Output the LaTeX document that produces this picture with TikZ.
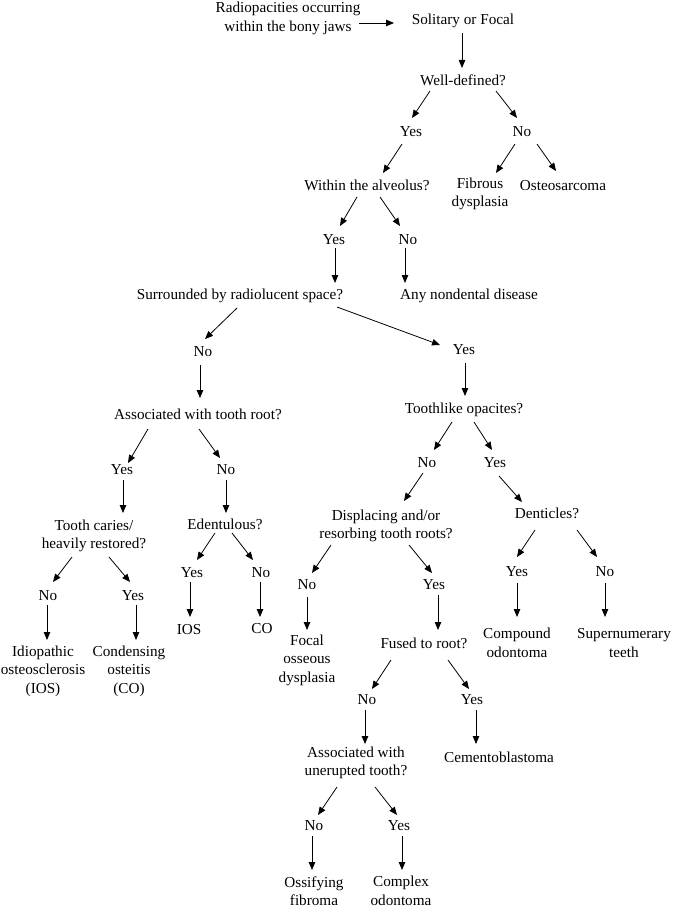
\documentclass[tikz,border=0pt]{standalone}
\usepackage{fontspec}
\setmainfont{Liberation Serif}
\usetikzlibrary{arrows.meta}
\tikzset{
  lbl/.style={inner sep=0pt, align=center, font=\fontsize{15.2}{18.5}\selectfont},
  arr/.style={-{Triangle[length=8pt,width=6.5pt]}, line width=0.8pt},
}
\newcommand\link[4]{\draw[arr] ([shift={(#2)}]#1.center) -- ([shift={(#4)}]#3.center);}
\begin{document}
\begin{tikzpicture}[x=1pt,y=-1pt]
\useasboundingbox[fill=white] (0,0) rectangle (675,909);
% nodes
\node[lbl] (r) at (288,18.5) {Radiopacities occurring\\within the bony jaws};
\node[lbl] (sol) at (463,21) {Solitary or Focal};
\node[lbl] (wd) at (463,80) {Well-defined?};
\node[lbl] (yes1) at (411,132) {Yes};
\node[lbl] (no1) at (522,132) {No};
\node[lbl] (within) at (367,185) {Within the alveolus?};
\node[lbl] (fib) at (480,194) {Fibrous\\dysplasia};
\node[lbl] (ost) at (563,186) {Osteosarcoma};
\node[lbl] (yes2) at (334,240) {Yes};
\node[lbl] (no2) at (408,240) {No};
\node[lbl] (surr) at (240,296) {Surrounded by radiolucent space?};
\node[lbl] (any) at (469,296) {Any nondental disease};
\node[lbl] (no3) at (203,352) {No};
\node[lbl] (yes3) at (464,350) {Yes};
\node[lbl] (assoc) at (198,414) {Associated with tooth root?};
\node[lbl] (tooth) at (464,410) {Toothlike opacites?};
\node[lbl] (yes4) at (122,470) {Yes};
\node[lbl] (no4) at (226,470) {No};
\node[lbl] (no5) at (427,463) {No};
\node[lbl] (yes5) at (495,463) {Yes};
\node[lbl] (caries) at (94,536) {Tooth caries/\\heavily restored?};
\node[lbl] (edent) at (225,524) {Edentulous?};
\node[lbl] (disp) at (386,526) {Displacing and/or\\resorbing tooth roots?};
\node[lbl] (dent) at (547,513) {Denticles?};
\node[lbl] (no10) at (48,596) {No};
\node[lbl] (yes10) at (133,596) {Yes};
\node[lbl] (yes11) at (192,573) {Yes};
\node[lbl] (no11) at (261,573) {No};
\node[lbl] (no6) at (307,585) {No};
\node[lbl] (yes6) at (434,585) {Yes};
\node[lbl] (yes9) at (517,572) {Yes};
\node[lbl] (no9) at (605,572) {No};
\node[lbl] (ios) at (189,630) {IOS};
\node[lbl] (co) at (262,629) {CO};
\node[lbl] (idio) at (43,671) {Idiopathic\\osteosclerosis\\(IOS)};
\node[lbl] (cond) at (129,671) {Condensing\\osteitis\\(CO)};
\node[lbl] (focal) at (307,660) {Focal\\osseous\\dysplasia};
\node[lbl] (fused) at (424,643) {Fused to root?};
\node[lbl] (comp) at (517,643) {Compound\\odontoma};
\node[lbl] (super) at (624,643) {Supernumerary\\teeth};
\node[lbl] (no7) at (367,700) {No};
\node[lbl] (yes7) at (472,700) {Yes};
\node[lbl] (assoc2) at (356,763) {Associated with\\unerupted tooth?};
\node[lbl] (cemento) at (499,757) {Cementoblastoma};
\node[lbl] (no8) at (314,826) {No};
\node[lbl] (yes8) at (399,826) {Yes};
\node[lbl] (ossify) at (314,891) {Ossifying\\fibroma};
\node[lbl] (complex) at (401,891) {Complex\\odontoma};
% connectors
\link{r}{71,4.5}{sol}{-69,2}
\link{sol}{-1,12}{wd}{-1,-12}
\link{wd}{-33,11}{yes1}{1,-14}
\link{wd}{33,11}{no1}{-5,-14}
\link{yes1}{-9,12}{within}{16,-12}
\link{no1}{-7,12}{fib}{16,-21}
\link{no1}{15,12}{ost}{-7,-15}
\link{within}{-10,12}{yes2}{6,-14}
\link{within}{13,12}{no2}{-8,-14}
\link{yes2}{1,8}{surr}{95,-13}
\link{no2}{-3,8}{any}{-64,-13}
\link{surr}{-3,12}{no3}{2,-13}
\link{surr}{97,11}{yes3}{-24,-5}
\link{no3}{-3,13}{assoc}{2,-16}
\link{yes3}{1,13}{tooth}{1,-14}
\link{assoc}{-50,15}{yes4}{6,-7}
\link{assoc}{1,15}{no4}{-6,-12}
\link{tooth}{-12,12}{no5}{7,-13}
\link{tooth}{10,12}{yes5}{-3,-13}
\link{yes4}{1,10}{caries}{29,-23}
\link{no4}{0,10}{edent}{1,-11}
\link{no5}{-4,10}{disp}{18,-25}
\link{yes5}{4,13}{dent}{-25,-11}
\link{caries}{-22,21}{no10}{5,-14}
\link{caries}{15,21}{yes10}{-3,-14}
\link{edent}{-10,9}{yes11}{5,-13}
\link{edent}{7,9}{no11}{-8,-13}
\link{disp}{-55,19}{no6}{5,-12}
\link{disp}{23,19}{yes6}{-2,-12}
\link{dent}{-12,17}{yes9}{0,-15}
\link{dent}{30,17}{no9}{-8,-15}
\link{no10}{-1,9}{idio}{4,-31}
\link{yes10}{3,9}{cond}{7,-31}
\link{yes11}{-2,9}{ios}{1,-13}
\link{no11}{-1,9}{co}{-2,-12}
\link{no6}{0,12}{focal}{0,-30}
\link{yes6}{4,10}{fused}{14,-13}
\link{yes9}{0,11}{comp}{0,-26}
\link{no9}{0,11}{super}{-19,-26}
\link{fused}{-33,17}{no7}{5,-11}
\link{fused}{24,17}{yes7}{-3,-11}
\link{no7}{-2,10}{assoc2}{9,-19}
\link{yes7}{4,10}{cemento}{-23,-13}
\link{assoc2}{-19,24}{no8}{4,-11}
\link{assoc2}{19,24}{yes8}{-2,-11}
\link{no8}{-2,10}{ossify}{-2,-21}
\link{yes8}{3,10}{complex}{1,-21}
\end{tikzpicture}
\end{document}
